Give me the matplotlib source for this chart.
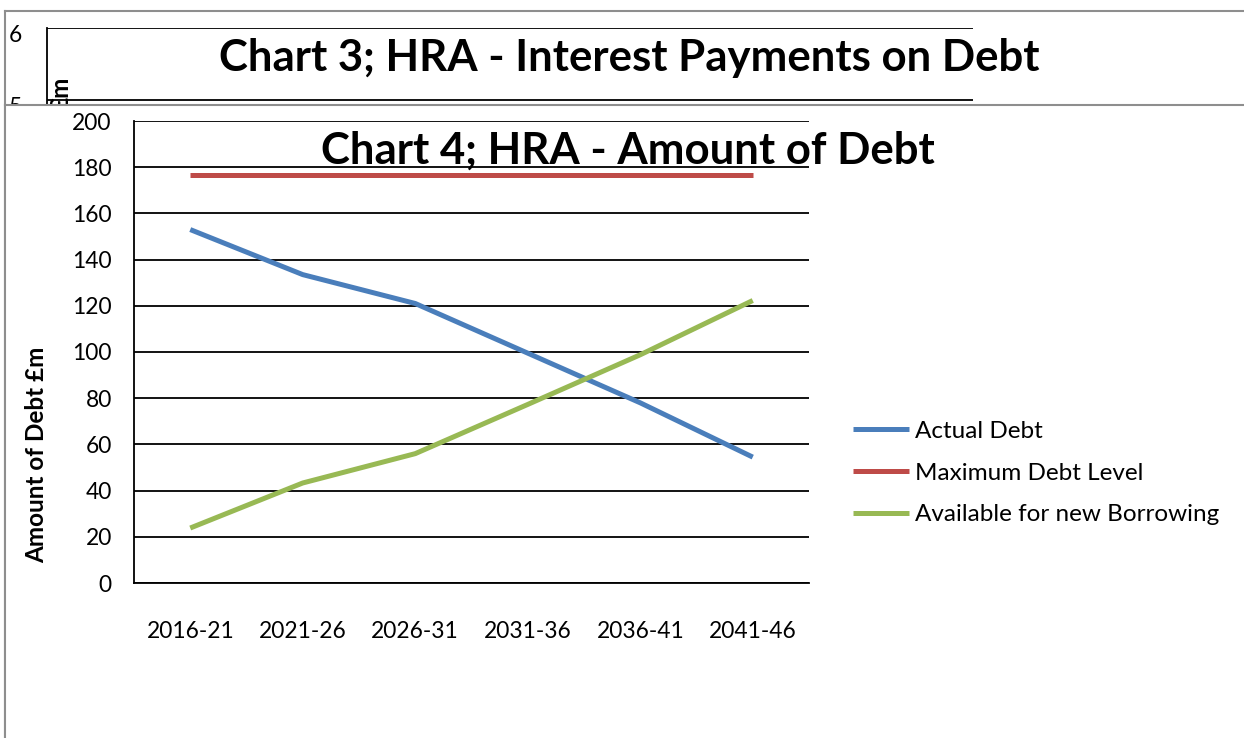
import matplotlib
matplotlib.use('Agg')
import matplotlib.pyplot as plt
from matplotlib.transforms import ScaledTranslation

plt.rcParams['font.family'] = ['Lato', 'DejaVu Sans']

# Data (GBP million)
periods = ['2016-21', '2021-26', '2026-31', '2031-36', '2036-41', '2041-46']
actual_debt = [153.0, 133.5, 121.0, 99.5, 78.0, 54.5]
max_debt = [176.8, 176.8, 176.8, 176.8, 176.8, 176.8]
available = [23.8, 43.3, 56.0, 77.3, 98.8, 122.3]

# Chart 3 peeks out from behind chart 4
chart3_ticks = [5, 6]

W, H = 1244, 738


def rect(x0, y0, x1, y1):
    # pixel box (top-left origin) -> figure fraction
    return [x0 / W, 1 - y1 / H, (x1 - x0) / W, (y1 - y0) / H]


fig = plt.figure(figsize=(W / 100, H / 100), dpi=100)
fig.patch.set_facecolor('white')
gray = '#8e8e8e'

# background frame of chart 3
bg3 = fig.add_axes(rect(5, 11, 1260, 760), zorder=-1)
bg3.set_xticks([])
bg3.set_yticks([])
for s in ['right', 'bottom']:
    bg3.spines[s].set_visible(False)
for s in ['left', 'top']:
    bg3.spines[s].set_color(gray)
    bg3.spines[s].set_linewidth(1.5)

# chart 3 plot area (mostly hidden)
ax3 = fig.add_axes(rect(47, 28, 973, 172), zorder=0)
ax3.set_facecolor('none')
ax3.set_ylim(4, 6)
ax3.set_xlim(0, 1)
ax3.set_yticks(chart3_ticks)
ax3.set_yticklabels([str(t) for t in chart3_ticks], fontsize=16.4)
ax3.tick_params(axis='y', length=0, pad=18)
ax3.set_xticks([])
shift = ScaledTranslation(0, -6 / 100, fig.dpi_scale_trans)
for lab in ax3.get_yticklabels():
    lab.set_transform(lab.get_transform() + shift)
for t in chart3_ticks:
    ax3.axhline(t, color='black', lw=1.3)
for s in ['right', 'bottom', 'top']:
    ax3.spines[s].set_visible(False)
ax3.spines['left'].set_linewidth(1.3)
ax3.text(61 / W, 1 - 77 / H, '£m', transform=fig.transFigure, rotation=90,
         ha='center', va='top', fontsize=17.5, fontweight='bold')
fig.text(629 / W, 1 - 58 / H, 'Chart 3; HRA - Interest Payments on Debt',
         ha='center', va='center', fontsize=31.5, fontweight='bold')

# background frame of chart 4
bg4 = fig.add_axes(rect(5, 105, 1260, 760), zorder=1)
bg4.set_xticks([])
bg4.set_yticks([])
for s in ['right', 'bottom']:
    bg4.spines[s].set_visible(False)
for s in ['left', 'top']:
    bg4.spines[s].set_color(gray)
    bg4.spines[s].set_linewidth(1.5)

# chart 4
ax = fig.add_axes(rect(134, 121, 809, 583), zorder=2)
ax.set_facecolor('none')
x = list(range(len(periods)))
ax.plot(x, actual_debt, color='#4A7EBB', lw=3.6, label='Actual Debt', solid_capstyle='butt')
ax.plot(x, max_debt, color='#BE4B48', lw=3.6, label='Maximum Debt Level', solid_capstyle='butt')
ax.plot(x, available, color='#98B954', lw=3.6, label='Available for new Borrowing', solid_capstyle='butt')
ax.set_xlim(-0.5, len(periods) - 0.5)
ax.set_ylim(0, 200)
ax.set_yticks(range(0, 201, 20))
ax.set_yticklabels([str(v) for v in range(0, 201, 20)], fontsize=16.4)
ax.set_xticks(x)
ax.set_xticklabels(periods, fontsize=16.4)
ax.tick_params(axis='both', length=0)
ax.tick_params(axis='y', pad=16)
ax.tick_params(axis='x', pad=27)
ax.grid(axis='y', color='black', lw=1.3)
ax.set_axisbelow(True)
for s in ['right', 'top']:
    ax.spines[s].set_visible(False)
ax.spines['left'].set_linewidth(1.3)
ax.spines['bottom'].set_linewidth(1.3)

fig.text(37 / W, 1 - 455 / H, 'Amount of Debt £m', rotation=90,
         ha='center', va='center', fontsize=17.5, fontweight='bold')
fig.text(628 / W, 1 - 151 / H, 'Chart 4; HRA - Amount of Debt',
         ha='center', va='center', fontsize=31.5, fontweight='bold', zorder=5)

leg = ax.legend(loc='center left', bbox_to_anchor=(831 / W, 1 - 473 / H),
                bbox_transform=fig.transFigure, frameon=False, fontsize=17.5,
                handlelength=2.3, handletextpad=0.25, labelspacing=0.85)

fig.savefig('out.png', dpi=100)
